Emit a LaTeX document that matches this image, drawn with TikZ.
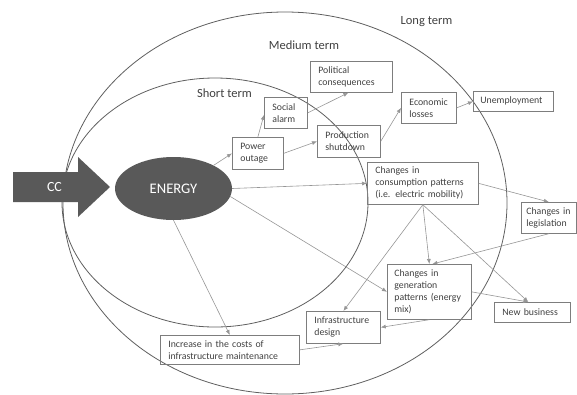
\documentclass[tikz,border=0pt]{standalone}
\usepackage{fontspec}
\setmainfont{Carlito}
\usetikzlibrary{shapes.geometric,arrows.meta}
\definecolor{darkfill}{RGB}{89,89,89}
\definecolor{txt}{RGB}{64,64,64}
\definecolor{boxline}{RGB}{125,125,125}
\definecolor{ringline}{RGB}{95,95,95}
\definecolor{arrowline}{RGB}{150,150,150}
\begin{document}
\begin{tikzpicture}[x=1pt,y=-1pt,
  box/.style={draw=boxline, line width=0.7pt, text=txt, align=left, anchor=north west,
              inner xsep=8pt, inner ysep=0pt, font=\fontsize{9.8}{12}\selectfont},
  conn/.style={draw=arrowline, line width=0.6pt, -{Latex[length=5pt,width=4pt]}},
  ring/.style={draw=ringline, line width=0.8pt},
  term/.style={text=txt, font=\fontsize{12.5}{14}\selectfont, inner sep=0pt}]
\useasboundingbox (0,0) rectangle (577,394);
% term regions
\draw[ring] (285,203) ellipse [x radius=222pt, y radius=191pt];
\draw[ring] (215,202.5) ellipse [x radius=153pt, y radius=124.5pt];
% CC arrow
\fill[darkfill] (13,172) -- (78,172) -- (78,157) -- (110,187) -- (78,217) -- (78,202) -- (13,202) -- cycle;
\node[text=white, font=\fontsize{14}{16}\selectfont] (cc) at (54.5,187) {CC};
\node[ellipse, fill=darkfill, minimum width=117pt, minimum height=63pt, inner sep=0pt,
      text=white, font=\fontsize{14.6}{16}\selectfont] (energy) at (173.5,188.5) {ENERGY};
% labels
\node[term] (lt) at (426.5,22) {Long term};
\node[term] (mt) at (304,45) {Medium term};
\node[term] (st) at (224.5,93) {Short term};
% boxes
\node[box, text width=66pt, minimum height=31pt] (pol) at (310,61) {Political\\consequences};
\node[box, text width=27pt, minimum height=31pt] (soc) at (264,97) {Social\\alarm};
\node[box, text width=35pt, minimum height=32pt] (pow) at (232,137) {Power\\outage};
\node[box, text width=47pt, minimum height=32pt] (prod) at (317,125) {Production\\shutdown};
\node[box, text width=39pt, minimum height=31pt] (eco) at (401,92) {Economic\\losses};
\node[box, text width=66pt, minimum height=20pt, inner xsep=7pt] (unemp) at (473,91) {Unemployment};
\node[box, text width=95pt, minimum height=42pt] (cons) at (367,162) {Changes in\\consumption patterns\\(i.e. electric mobility)};
\node[box, text width=45pt, minimum height=31pt, inner xsep=5pt] (leg) at (521,202) {Changes~in\\legislation};
\node[box, text width=70pt, minimum height=55pt, inner xsep=7pt] (gen) at (387,264) {Changes in\\generation\\patterns (energy\\mix)};
\node[box, text width=60pt, minimum height=20pt] (nb) at (494,302) {New business};
\node[box, text width=58pt, minimum height=32pt] (infra) at (306,311) {Infrastructure\\design};
\node[box, text width=123pt, minimum height=29pt] (inc) at (160,335) {Increase in the costs of\\infrastructure maintenance};
% connectors
\draw[conn] (energy.30) -- (pow.west);
\draw[conn] (pow.north) -- ([yshift=-2pt]soc.west);
\draw[conn] (soc.east) -- ([xshift=-3pt]pol.south);
\draw[conn] (pow.east) -- (prod.west);
\draw[conn] (prod.east) -- (eco.west);
\draw[conn] (eco.east) -- (unemp.west);
\draw[conn] (energy.east) -- (cons.west);
\draw[conn] (cons.east) -- (leg.north);
\draw[conn] (cons.south) -- (gen.north);
\draw[conn] (cons.south) -- (infra.north);
\draw[conn] (cons.south) -- ([xshift=-4pt]nb.north);
\draw[conn] (leg.south) -- ([xshift=3pt]gen.north);
\draw[conn] (gen.east) -- ([xshift=-4pt]nb.north);
\draw[conn] (gen.south) -- (infra.east);
\draw[conn] (energy.-8) -- (gen.west);
\draw[conn] (energy.south) -- (inc.north);
\draw[conn] (inc.east) -- (infra.south);
\end{tikzpicture}
\end{document}
